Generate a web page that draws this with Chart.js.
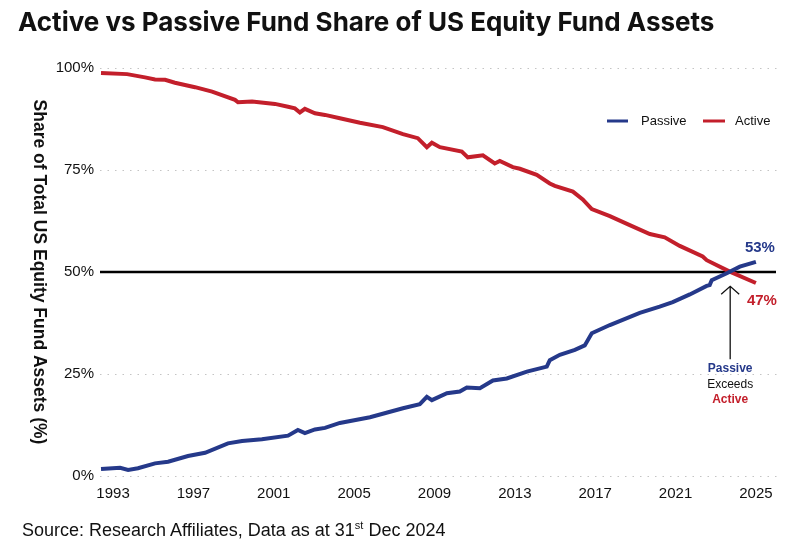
<!DOCTYPE html>
<html>
<head>
<meta charset="utf-8">
<script src="https://cdn.jsdelivr.net/npm/chart.js@4.4.0/dist/chart.umd.min.js"></script>
<style>
  body { margin: 0; background: #fff; }
  #wrap { position: relative; width: 793px; height: 549px; overflow: hidden; }
  #title { position: absolute; left: 18px; top: 6px; font: 700 26px Inter, "Liberation Sans", sans-serif; color: #111; white-space: nowrap; }
  #source { position: absolute; left: 22px; top: 519px; font: 18px "Liberation Sans", Arial, sans-serif; color: #111; white-space: nowrap; }
  #source sup { font-size: 11px; }
  canvas { position: absolute; left: 0; top: 0; }
</style>
</head>
<body>
<div id="wrap">
  <canvas id="fund_chart" width="793" height="549"></canvas>
  <div id="title">Active vs Passive Fund Share of US Equity Fund Assets</div>
  <div id="source">Source: Research Affiliates, Data as at 31<sup>st</sup> Dec 2024</div>
</div>
<script>
const fundChart = document.getElementById('fund_chart');

// values (year, share in %)
const activeYears = [1992.40, 1993.70, 1994.59, 1995.09, 1995.59, 1996.08, 1997.08, 1997.93, 1999.07, 1999.22,
  1999.92, 2001.06, 2001.71, 2002.05, 2002.30, 2002.55, 2003.05, 2003.55, 2004.29, 2005.29,
  2006.43, 2007.43, 2008.17, 2008.62, 2008.87, 2009.27, 2010.36, 2010.66, 2011.41, 2012.00,
  2012.25, 2012.90, 2013.25, 2014.09, 2014.74, 2014.99, 2015.89, 2016.38, 2016.83, 2017.73,
  2018.72, 2019.72, 2020.46, 2021.21, 2022.35, 2022.55, 2023.70, 2025.00];
const activeShare = [98.8, 98.5, 97.7, 97.2, 97.1, 96.4, 95.3, 94.2, 92.2, 91.6,
  91.8, 91.2, 90.5, 90.1, 89.1, 90.0, 88.9, 88.5, 87.7, 86.6,
  85.5, 83.8, 82.8, 80.6, 81.7, 80.6, 79.5, 78.1, 78.6, 76.6,
  77.2, 75.7, 75.3, 73.8, 71.7, 71.1, 69.7, 67.8, 65.4, 63.7,
  61.5, 59.3, 58.5, 56.4, 53.8, 52.9, 50.1, 47.3];

const passiveYears = [1992.40, 1993.35, 1993.75, 1994.24, 1995.09, 1995.74, 1996.73, 1997.58, 1998.72, 1999.42,
  2000.41, 2001.71, 2002.20, 2002.55, 2003.05, 2003.55, 2004.29, 2005.79, 2007.43, 2008.27,
  2008.62, 2008.87, 2009.62, 2010.26, 2010.61, 2011.26, 2011.91, 2012.60, 2013.60, 2014.59,
  2014.74, 2015.24, 2015.99, 2016.48, 2016.83, 2017.73, 2019.22, 2020.21, 2020.86, 2021.71,
  2022.55, 2022.70, 2022.80, 2023.55, 2024.20, 2025.00];
const passiveShare = [1.7, 2.0, 1.5, 1.9, 3.1, 3.5, 4.9, 5.7, 8.0, 8.6,
  9.0, 9.9, 11.3, 10.5, 11.4, 11.8, 13.0, 14.4, 16.6, 17.6,
  19.4, 18.6, 20.3, 20.7, 21.7, 21.5, 23.4, 23.9, 25.6, 26.8,
  28.4, 29.7, 30.9, 32.0, 35.0, 37.0, 40.0, 41.5, 42.6, 44.5,
  46.6, 46.8, 48.0, 49.7, 51.3, 52.5];

const yearTicks = [1993, 1997, 2001, 2005, 2009, 2013, 2017, 2021, 2025];
const shareTicks = [0, 25, 50, 75, 100];

const BLUE = '#25398a';
const RED = '#c31f2b';

function toPoints(xs, ys) {
    return xs.map((x, i) => ({ x: x, y: ys[i] }));
}

// black 50% line, legend, arrow note, end labels, rotated axis title
const extras = {
    id: 'extras',
    beforeDatasetsDraw(chart) {
        const { ctx, chartArea, scales } = chart;
        const y = scales.y.getPixelForValue(50);
        ctx.save();
        ctx.strokeStyle = '#000';
        ctx.lineWidth = 2.5;
        ctx.beginPath();
        ctx.moveTo(chartArea.left, y);
        ctx.lineTo(chartArea.right - 2, y);
        ctx.stroke();
        ctx.restore();
    },
    afterDraw(chart) {
        const { ctx, scales } = chart;
        ctx.save();

        // axis title, reads top to bottom
        ctx.translate(39, 272);
        ctx.rotate(Math.PI / 2);
        ctx.font = 'bold 17.5px "Liberation Sans", Arial, sans-serif';
        ctx.fillStyle = '#111';
        ctx.textAlign = 'center';
        ctx.textBaseline = 'middle';
        ctx.fillText('Share of Total US Equity Fund Assets (%)', 0, 0);
        ctx.restore();

        // legend
        ctx.save();
        ctx.lineWidth = 3;
        ctx.font = '13px "Liberation Sans", Arial, sans-serif';
        ctx.textBaseline = 'middle';
        ctx.fillStyle = '#111';
        ctx.strokeStyle = BLUE;
        ctx.beginPath(); ctx.moveTo(607, 121); ctx.lineTo(628, 121); ctx.stroke();
        ctx.fillText('Passive', 641, 121);
        ctx.strokeStyle = RED;
        ctx.beginPath(); ctx.moveTo(703, 121); ctx.lineTo(725, 121); ctx.stroke();
        ctx.fillText('Active', 735, 121);
        ctx.restore();

        // arrow note
        const ax = scales.x.getPixelForValue(2023.72);
        const tip = scales.y.getPixelForValue(46.5);
        ctx.save();
        ctx.strokeStyle = '#111';
        ctx.lineWidth = 1.3;
        ctx.beginPath();
        ctx.moveTo(ax, tip);
        ctx.lineTo(ax, tip + 73);
        ctx.moveTo(ax - 9, tip + 8);
        ctx.lineTo(ax, tip);
        ctx.lineTo(ax + 9, tip + 8);
        ctx.stroke();
        ctx.textAlign = 'center';
        ctx.textBaseline = 'middle';
        ctx.font = 'bold 12px "Liberation Sans", Arial, sans-serif';
        ctx.fillStyle = BLUE;
        ctx.fillText('Passive', ax, tip + 82);
        ctx.font = '12px "Liberation Sans", Arial, sans-serif';
        ctx.fillStyle = '#111';
        ctx.fillText('Exceeds', ax, tip + 98);
        ctx.font = 'bold 12px "Liberation Sans", Arial, sans-serif';
        ctx.fillStyle = RED;
        ctx.fillText('Active', ax, tip + 113);

        // end labels
        const ex = scales.x.getPixelForValue(2025) + 4;
        ctx.textAlign = 'center';
        ctx.font = 'bold 15px "Liberation Sans", Arial, sans-serif';
        ctx.fillStyle = BLUE;
        ctx.fillText('53%', ex + 0, scales.y.getPixelForValue(52.5) - 14);
        ctx.fillStyle = RED;
        ctx.fillText('47%', ex + 2, scales.y.getPixelForValue(47.3) + 18);
        ctx.restore();
    }
};

new Chart(fundChart, {
    type: 'line',
    data: {
        datasets: [{
            label: 'Passive',
            data: toPoints(passiveYears, passiveShare),
            borderColor: BLUE,
            borderWidth: 4,
            pointRadius: 0,
            tension: 0
        }, {
            label: 'Active',
            data: toPoints(activeYears, activeShare),
            borderColor: RED,
            borderWidth: 4,
            pointRadius: 0,
            tension: 0
        }]
    },
    options: {
        responsive: false,
        animation: false,
        layout: { padding: { top: 68, right: 15, left: 0, bottom: 0 } },
        plugins: {
            legend: { display: false },
            tooltip: { enabled: false }
        },
        scales: {
            x: {
                type: 'linear',
                min: 1992.35,
                max: 2026.1,
                afterBuildTicks: (scale) => { scale.ticks = yearTicks.map(v => ({ value: v })); },
                afterFit: (scale) => { scale.height = 73; },
                grid: { display: false },
                border: { display: false },
                ticks: {
                    padding: 1,
                    color: '#111',
                    font: { family: '"Liberation Sans", Arial, sans-serif', size: 15 },
                    callback: (v) => String(v),
                    maxRotation: 0
                }
            },
            y: {
                min: 0,
                max: 100,
                afterBuildTicks: (scale) => { scale.ticks = shareTicks.map(v => ({ value: v })); },
                afterFit: (scale) => { scale.width = 100; },
                grid: {
                    drawTicks: false,
                    color: (c) => c.tick && c.tick.value === 50 ? 'rgba(0,0,0,0)' : '#c4c4c4',
                    lineWidth: 1
                },
                border: { display: false, dash: [1.5, 6] },
                ticks: {
                    padding: 6,
                    color: '#111',
                    font: { family: '"Liberation Sans", Arial, sans-serif', size: 15 },
                    callback: (v) => v + '%'
                }
            }
        }
    },
    plugins: [extras]
});
</script>
</body>
</html>
